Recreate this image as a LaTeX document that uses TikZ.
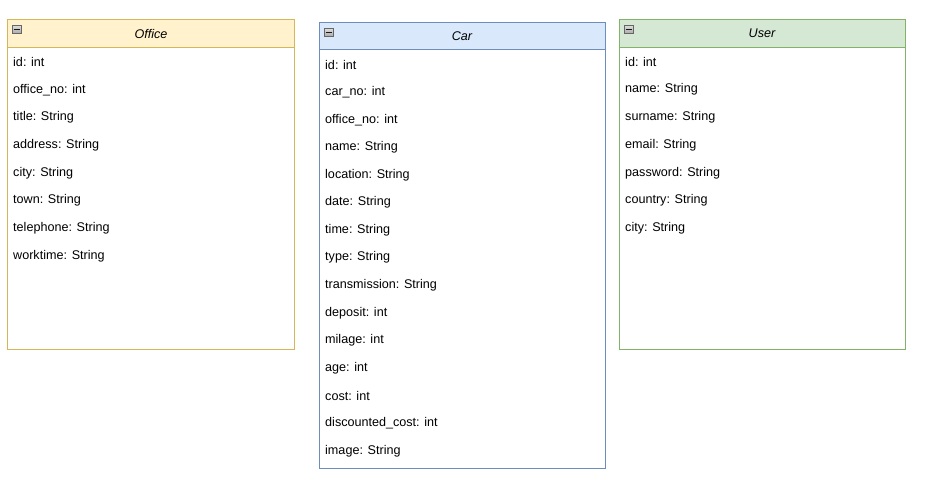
\documentclass[tikz,border=0pt]{standalone}
\usepackage{fontspec}
\setmainfont{Liberation Sans}
\begin{document}
\begin{tikzpicture}[x=1pt,y=-1pt,
  field/.style={anchor=west,font=\fontsize{12.6}{14}\selectfont,inner sep=0pt,text=black},
  title/.style={font=\fontsize{12.6}{14}\selectfont\itshape,inner sep=0pt},
  iconbox/.style={draw=gray!80!black,top color=gray!25,bottom color=gray!65,line width=0.6pt}]
\useasboundingbox (0,0) rectangle (946,496);
\definecolor{offFill}{HTML}{FFF2CC}\definecolor{offLine}{HTML}{D6B656}
\definecolor{carFill}{HTML}{DAE8FC}\definecolor{carLine}{HTML}{6C8EBF}
\definecolor{usrFill}{HTML}{D5E8D4}\definecolor{usrLine}{HTML}{82B366}
% Office
\fill[offFill] (7.5,19.5) rectangle (294.5,47);
\draw[offLine,line width=1pt] (7.5,19.5) rectangle (294.5,349.5);
\draw[offLine,line width=1pt] (7.5,47) -- (294.5,47);
\node[title] (office) at (151,33.5) {Office};
\draw[iconbox] (12,25) rectangle (21,33); \draw[gray!20!black,line width=1pt] (13.5,29) -- (19.5,29);
\foreach \t [count=\i from 0] in {id: int,office\_no: int,title: String,address: String,city: String,town: String,telephone: String,worktime: String}
  \node[field] (o\i) at (13,62+27.7*\i) {\t};
% Car
\fill[carFill] (319.5,22.5) rectangle (605.5,49);
\draw[carLine,line width=1pt] (319.5,22.5) rectangle (605.5,468.5);
\draw[carLine,line width=1pt] (319.5,49) -- (605.5,49);
\node[title] (car) at (462,36.5) {Car};
\draw[iconbox] (324,28) rectangle (333,36); \draw[gray!20!black,line width=1pt] (325.5,32) -- (331.5,32);
\foreach \t [count=\i from 0] in {id: int,car\_no: int,office\_no: int,name: String,location: String,date: String,time: String,type: String,transmission: String,deposit: int,milage: int,age: int,cost: int,discounted\_cost: int,image: String}
  \node[field] (c\i) at (325,64.5+27.6*\i) {\t};
% User
\fill[usrFill] (619.5,19.5) rectangle (905.5,47);
\draw[usrLine,line width=1pt] (619.5,19.5) rectangle (905.5,349.5);
\draw[usrLine,line width=1pt] (619.5,47) -- (905.5,47);
\node[title] (user) at (762,33.5) {User};
\draw[iconbox] (624,25) rectangle (633,33); \draw[gray!20!black,line width=1pt] (625.5,29) -- (631.5,29);
\foreach \t [count=\i from 0] in {id: int,name: String,surname: String,email: String,password: String,country: String,city: String}
  \node[field] (u\i) at (625,62+27.7*\i) {\t};
\end{tikzpicture}
\end{document}
